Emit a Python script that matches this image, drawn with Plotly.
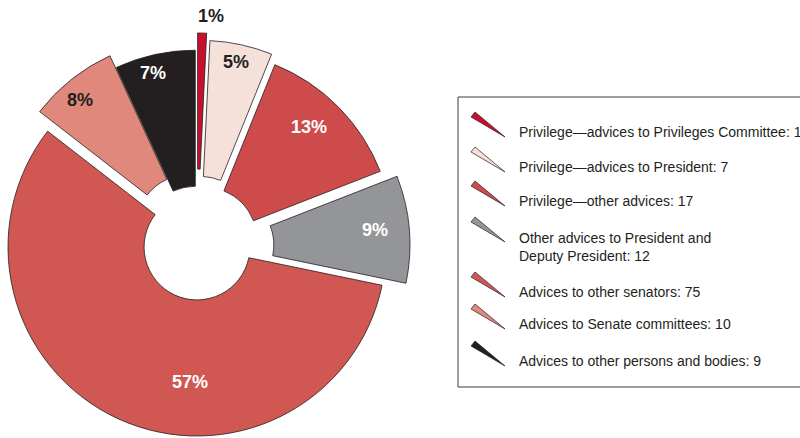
import math
import plotly.graph_objects as go

# ---- data ----
categories = [
    "Privilege\u2014advices to Privileges Committee",
    "Privilege\u2014advices to President",
    "Privilege\u2014other advices",
    "Other advices to President and<br>Deputy President",
    "Advices to other senators",
    "Advices to Senate committees",
    "Advices to other persons and bodies",
]
values = [1, 7, 17, 12, 75, 10, 9]

# ---- style ----
colors = ["#c8102e", "#f6e0da", "#cd4b4b", "#939598", "#d05752", "#e0887b", "#231f20"]
text_colors = ["#231f20", "#231f20", "white", "white", "white", "#231f20", "white"]
pull_px = [25, 18, 10, 24, 0, 25, 8]              # explode distance of each slice (px)
label_frac = [1.09, 0.905, 0.816, 0.819, 0.715, 0.861, 0.907]   # label radius / R
label_turn = [2.35, -0.5, -2.4, -0.8, -21.8, 0.0, -1.9]          # label angle tweak (deg)

W, H = 800, 438
CX, CY = 197, 247          # pie centre (px, from top-left)
R = 189                    # outer radius (px)
HOLE = 0.28
EDGE = "#231f20"
FONT = "Liberation Sans, Arial, sans-serif"

fig = go.Figure()
total = sum(values)
n = len(values)
annotations = []
cum = 0
for i, v in enumerate(values):
    mid_deg = (cum + v / 2) / total * 360
    cum += v
    mid = math.radians(mid_deg)
    px = CX + pull_px[i] * math.sin(mid)
    py = CY - pull_px[i] * math.cos(mid)
    cx = min(max(px, R), W - R)
    cy = min(max(py, R), H - R)
    fig.add_trace(go.Pie(
        labels=categories,
        values=values,
        sort=False,
        direction="clockwise",
        rotation=0,
        hole=HOLE,
        marker=dict(
            colors=[colors[j] if j == i else "rgba(0,0,0,0)" for j in range(n)],
            line=dict(color=[EDGE if j == i else "rgba(0,0,0,0)" for j in range(n)], width=0.8),
        ),
        textinfo="none",
        domain=dict(x=[(cx - R) / W, (cx + R) / W], y=[(H - cy - R) / H, (H - cy + R) / H]),
        showlegend=False,
        automargin=False,
        hoverinfo="label+value+percent",
    ))
    # percentage label
    a = math.radians(mid_deg + label_turn[i])
    lx = px + label_frac[i] * R * math.sin(a)
    ly = py - label_frac[i] * R * math.cos(a)
    annotations.append(dict(
        text=f"{round(v / total * 100)}%", xref="paper", yref="paper",
        x=lx / W, y=1 - ly / H, xanchor="center", yanchor="middle", showarrow=False,
        font=dict(family=FONT, size=18, color=text_colors[i], weight="bold"),
    ))

# ---- custom legend (box, wedge icons, labels) ----
legend_rows_y = [132, 167, 201, 237, 292, 324, 361]   # first-line centre of each entry (px)
shapes = [dict(type="rect", xref="paper", yref="paper",
               x0=458 / W, x1=1.01, y0=1 - 387 / H, y1=1 - 97 / H,
               line=dict(color="#3a3a3a", width=1), fillcolor="rgba(0,0,0,0)")]
for i, (cat, v) in enumerate(zip(categories, values)):
    yc = legend_rows_y[i]
    pts = [(505, yc + 5), (471, yc - 15), (475, yc - 20)]
    path = "M " + " L ".join(f"{x / W:.5f},{1 - y / H:.5f}" for x, y in pts) + " Z"
    shapes.append(dict(type="path", xref="paper", yref="paper", path=path,
                       fillcolor=colors[i], line=dict(color=EDGE, width=0.7)))
    lines = cat.count("<br>") + 1
    ycen = yc + (lines - 1) * 10
    annotations.append(dict(
        text=f"{cat}: {v}", xref="paper", yref="paper",
        x=517 / W, y=1 - ycen / H, xanchor="left", yanchor="middle",
        showarrow=False, align="left",
        font=dict(family=FONT, size=14, color="#231f20"),
    ))

fig.update_layout(
    width=W, height=H,
    margin=dict(l=0, r=0, t=0, b=0),
    paper_bgcolor="white", plot_bgcolor="white",
    shapes=shapes, annotations=annotations,
    showlegend=False,
)
fig.write_html("out.html", config={"displayModeBar": False},
               post_script="document.body.style.margin='0';")
